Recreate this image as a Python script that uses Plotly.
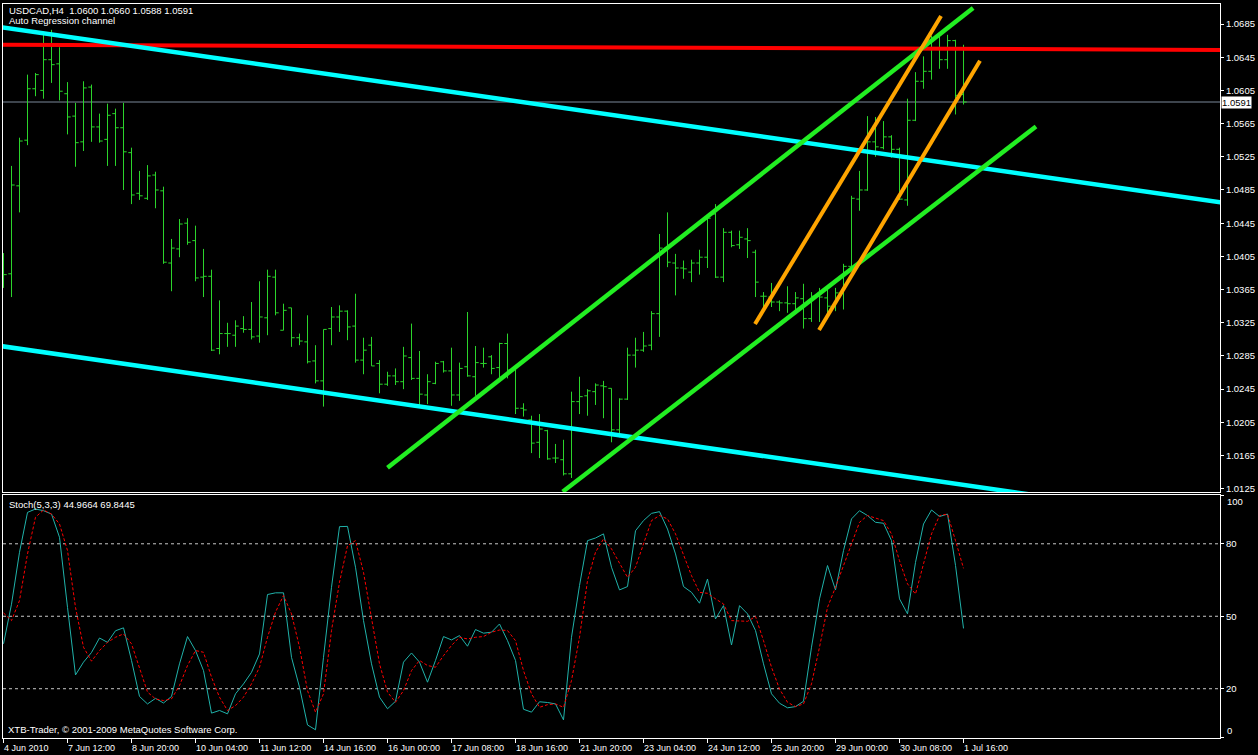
import plotly.graph_objects as go

# ---------------- data ----------------
symbol_header = "USDCAD,H4  1.0600 1.0660 1.0588 1.0591"
indicator_name = "Auto Regression channel"
stoch_header = "Stoch(5,3,3) 44.9664 69.8445"
copyright_text = "XTB-Trader, \u00a9 2001-2009 MetaQuotes Software Corp."

bar_index = list(range(121))

opens = [1.0389,1.0384,1.0490,1.0545,1.0607,1.0605,1.0642,1.0637,1.0601,1.0574,
         1.0543,1.0609,1.0561,1.0546,1.0577,1.0560,1.0530,1.0481,1.0475,1.0503,
         1.0484,1.0397,1.0414,1.0445,1.0424,1.0380,1.0381,1.0294,1.0312,1.0310,
         1.0318,1.0317,1.0309,1.0331,1.0380,1.0316,1.0343,1.0307,1.0302,1.0279,
         1.0255,1.0318,1.0332,1.0339,1.0321,1.0280,1.0298,1.0276,1.0251,1.0261,
         1.0254,1.0283,1.0258,1.0238,1.0252,1.0278,1.0267,1.0238,1.0272,1.0260,
         1.0276,1.0284,1.0271,1.0300,1.0270,1.0222,1.0208,1.0181,1.0195,1.0162,
         1.0160,1.0143,1.0230,1.0237,1.0242,1.0249,1.0246,1.0196,1.0233,1.0286,
         1.0292,1.0298,1.0336,1.0415,1.0397,1.0391,1.0386,1.0397,1.0404,1.0456,
         1.0380,1.0434,1.0419,1.0426,1.0410,1.0357,1.0356,1.0350,1.0349,1.0348,
         1.0354,1.0330,1.0357,1.0355,1.0345,1.0361,1.0393,1.0474,1.0485,1.0543,
         1.0536,1.0549,1.0534,1.0473,1.0569,1.0616,1.0628,1.0656,1.0642,1.0665,
         1.0600]
highs = [1.0409,1.0514,1.0548,1.0624,1.0626,1.0674,1.0678,1.0657,1.0615,1.0590,
         1.0616,1.0612,1.0577,1.0589,1.0583,1.0590,1.0536,1.0508,1.0515,1.0507,
         1.0489,1.0426,1.0450,1.0451,1.0442,1.0414,1.0389,1.0352,1.0325,1.0328,
         1.0333,1.0350,1.0375,1.0389,1.0389,1.0348,1.0343,1.0312,1.0334,1.0298,
         1.0317,1.0344,1.0346,1.0340,1.0360,1.0307,1.0308,1.0280,1.0266,1.0270,
         1.0296,1.0324,1.0291,1.0263,1.0278,1.0279,1.0295,1.0277,1.0338,1.0297,
         1.0295,1.0286,1.0301,1.0312,1.0270,1.0228,1.0213,1.0215,1.0196,1.0179,
         1.0184,1.0242,1.0260,1.0245,1.0252,1.0255,1.0246,1.0234,1.0295,1.0307,
         1.0314,1.0339,1.0432,1.0458,1.0408,1.0400,1.0401,1.0413,1.0452,1.0468,
         1.0439,1.0436,1.0436,1.0439,1.0413,1.0362,1.0373,1.0352,1.0369,1.0362,
         1.0372,1.0362,1.0367,1.0366,1.0367,1.0396,1.0478,1.0508,1.0574,1.0573,
         1.0568,1.0551,1.0536,1.0595,1.0627,1.0646,1.0671,1.0671,1.0672,1.0666,
         1.0660]
lows = [1.0367,1.0356,1.0458,1.0539,1.0598,1.0595,1.0614,1.0593,1.0552,1.0513,
        1.0532,1.0543,1.0542,1.0514,1.0514,1.0485,1.0468,1.0473,1.0473,1.0463,
        1.0396,1.0363,1.0404,1.0419,1.0375,1.0356,1.0291,1.0287,1.0296,1.0296,
        1.0313,1.0305,1.0301,1.0310,1.0334,1.0316,1.0296,1.0298,1.0276,1.0252,
        1.0224,1.0298,1.0314,1.0304,1.0277,1.0263,1.0273,1.0240,1.0249,1.0250,
        1.0245,1.0256,1.0225,1.0227,1.0251,1.0265,1.0225,1.0231,1.0260,1.0237,
        1.0271,1.0263,1.0258,1.0258,1.0215,1.0212,1.0168,1.0162,1.0160,1.0156,
        1.0141,1.0138,1.0215,1.0213,1.0226,1.0210,1.0181,1.0187,1.0232,1.0271,
        1.0290,1.0292,1.0308,1.0392,1.0358,1.0378,1.0374,1.0383,1.0391,1.0379,
        1.0374,1.0416,1.0414,1.0403,1.0356,1.0341,1.0344,1.0339,1.0337,1.0339,
        1.0318,1.0326,1.0326,1.0331,1.0339,1.0341,1.0392,1.0460,1.0484,1.0525,
        1.0534,1.0524,1.0473,1.0466,1.0568,1.0607,1.0618,1.0631,1.0631,1.0576,
        1.0588]
closes = [1.0383,1.0491,1.0544,1.0607,1.0624,1.0642,1.0636,1.0604,1.0573,1.0542,
          1.0608,1.0561,1.0544,1.0575,1.0560,1.0531,1.0479,1.0478,1.0502,1.0485,
          1.0398,1.0415,1.0444,1.0422,1.0379,1.0381,1.0292,1.0312,1.0312,1.0321,
          1.0317,1.0308,1.0332,1.0381,1.0337,1.0340,1.0307,1.0303,1.0278,1.0255,
          1.0317,1.0332,1.0339,1.0320,1.0280,1.0292,1.0273,1.0251,1.0261,1.0254,
          1.0285,1.0258,1.0239,1.0254,1.0276,1.0267,1.0238,1.0270,1.0261,1.0277,
          1.0276,1.0270,1.0300,1.0268,1.0222,1.0220,1.0180,1.0197,1.0161,1.0162,
          1.0143,1.0230,1.0236,1.0243,1.0250,1.0248,1.0196,1.0233,1.0286,1.0292,
          1.0297,1.0336,1.0415,1.0398,1.0391,1.0390,1.0397,1.0404,1.0451,1.0380,
          1.0434,1.0418,1.0428,1.0424,1.0374,1.0357,1.0350,1.0349,1.0348,1.0355,
          1.0330,1.0357,1.0356,1.0345,1.0361,1.0393,1.0475,1.0485,1.0543,1.0537,
          1.0549,1.0534,1.0474,1.0569,1.0616,1.0628,1.0656,1.0642,1.0665,1.0599,
          1.0591]

stoch_k = [38.6,55,76.5,93,94.4,93.7,92.3,82.7,53.7,25.7,
           31,35,41,39.2,44,45.2,31.7,16.8,13.7,16,
           14.1,16.8,30.3,41.6,35.8,27.5,9.9,11,9.6,17.9,
           22,26.8,34.4,59,59.7,59.7,33,20.6,5,3,
           33,62,87.1,87.2,70.3,48.2,30.3,16.5,11.7,14.8,
           31,34.8,31,22.7,31.7,41.6,40.2,42,37.6,44.5,
           43,43.4,46.8,39.9,31.7,11.5,10.3,14.6,14.3,13.7,
           7.1,41.3,62.7,81.3,82.4,84.1,70.3,60.9,62.3,85.4,
           89.6,92.6,93.3,86.1,75.8,62.3,59.9,55.4,65.4,48.9,
           54.4,38.1,54.4,51,44.1,30.3,17.9,14,12.1,12.6,
           14.8,37.2,57.2,71,60.9,77.2,90.3,93.7,91.7,88.9,
           88.5,81.3,57.2,51,72.3,88.2,94,91.3,92.3,71,
           44.97]
stoch_d = [51.4,48.2,56.5,75.8,91,94,92.3,88.2,77.2,53.7,
           37.2,31.4,35.8,39.2,41.3,42.7,38.6,28.9,18.6,15.8,
           15.1,15.8,21.3,29.6,35.8,35.1,24.8,16.5,11,13,
           16.5,22,28.9,41.3,51.7,58.6,51,37.2,19.2,10.3,
           17.9,44.1,64.1,79.2,81.3,68.2,49.6,30.3,18.6,14.4,
           19.2,27.5,31.7,29.6,28.9,33.7,37.9,41.3,40.6,41.3,
           41.6,43.4,44.3,44.1,39.9,27.5,17.9,12.3,13.4,13.7,
           12.3,23.4,41.3,64.8,76.5,82,77.9,71.7,66.1,70.3,
           79.9,89.6,91.7,90.3,84.1,75.8,66.8,59.9,59.5,57.2,
           55.1,48.2,48.2,47.9,49.9,39.9,28.9,19.9,14.4,12.6,
           13.7,22,37.2,53.7,62,71,79.9,88.9,91.7,90.7,
           89.6,84.1,73,63.4,59.2,71.7,84.1,91.7,92.3,81.3,
           69.84]

# time-axis labels (every 8th 4-hour bar)
time_tick_index = [0, 8, 16, 24, 32, 40, 48, 56, 64, 72, 80, 88, 96, 104, 112, 120]
time_tick_labels = ["4 Jun 2010", "7 Jun 12:00", "8 Jun 20:00", "10 Jun 04:00",
                    "11 Jun 12:00", "14 Jun 16:00", "16 Jun 00:00", "17 Jun 08:00",
                    "18 Jun 16:00", "21 Jun 20:00", "23 Jun 04:00", "24 Jun 12:00",
                    "25 Jun 20:00", "29 Jun 00:00", "30 Jun 08:00", "1 Jul 16:00"]

price_ticks = [1.0125, 1.0165, 1.0205, 1.0245, 1.0285, 1.0325, 1.0365, 1.0405,
               1.0445, 1.0485, 1.0525, 1.0565, 1.0605, 1.0645, 1.0685]
stoch_ticks = [0, 20, 50, 80, 100]
stoch_tick_text = ["", "20", "50", "80", ""]
stoch_levels = [20, 50, 80]
last_price = 1.0591

# drawn objects: (bar index, price) anchor pairs
red_line_x = [-0.5, 152.5]
red_line_y = [1.06600, 1.06537]
cyan_upper_x = [-0.5, 152.5]
cyan_upper_y = [1.06815, 1.04695]
cyan_lower_x = [-0.5, 152.5]
cyan_lower_y = [1.02972, 1.00845]
green_upper_x = [48.0, 121.2]
green_upper_y = [1.01504, 1.07043]
green_lower_x = [69.9, 129.06]
green_lower_y = [1.01215, 1.05615]
orange_a_x = [93.94, 117.19]
orange_a_y = [1.03236, 1.06946]
orange_b_x = [101.94, 122.06]
orange_b_y = [1.03163, 1.06408]

# ---------------- figure ----------------
FONT = "Liberation Sans, Arial, sans-serif"
W, H = 1258, 755
ML, MR, MT, MB = 3, 38, 4, 17
plot_h = H - MT - MB
price_dom = [(H - MB - 492) / plot_h, 1.0]
stoch_dom = [0.0, (H - MB - 495) / plot_h]

fig = go.Figure()

fig.add_trace(go.Ohlc(
    x=bar_index, open=opens, high=highs, low=lows, close=closes,
    increasing=dict(line=dict(color="#2bd42b", width=1)),
    decreasing=dict(line=dict(color="#2bd42b", width=1)),
    tickwidth=0.4, xaxis="x2", yaxis="y2", hoverinfo="skip", showlegend=False))

def seg(xs, ys, color, width):
    fig.add_trace(go.Scatter(x=xs, y=ys, mode="lines", line=dict(color=color, width=width),
                             xaxis="x2", yaxis="y2", hoverinfo="skip", showlegend=False))

seg(red_line_x, red_line_y, "#ff0000", 4)
seg(cyan_upper_x, cyan_upper_y, "#00ffff", 4.5)
seg(cyan_lower_x, cyan_lower_y, "#00ffff", 4.5)
seg(green_upper_x, green_upper_y, "#22ee22", 4.5)
seg(green_lower_x, green_lower_y, "#22ee22", 4.5)
seg(orange_a_x, orange_a_y, "#ffa500", 4)
seg(orange_b_x, orange_b_y, "#ffa500", 4)

# stochastic
fig.add_trace(go.Scatter(x=bar_index, y=stoch_k, mode="lines",
                         line=dict(color="#20b2aa", width=1),
                         xaxis="x", yaxis="y", hoverinfo="skip", showlegend=False))
fig.add_trace(go.Scatter(x=bar_index, y=stoch_d, mode="lines",
                         line=dict(color="#ff0000", width=1, dash="3px,2px"),
                         xaxis="x", yaxis="y", hoverinfo="skip", showlegend=False))

shapes = []
for lv in stoch_levels:
    shapes.append(dict(type="line", xref="x domain", yref="y", x0=0, x1=1, y0=lv, y1=lv,
                       line=dict(color="#c8c8c8", width=1, dash="3px,3px"), layer="below"))
shapes.append(dict(type="line", xref="x2 domain", yref="y2", x0=0, x1=1,
                   y0=last_price, y1=last_price,
                   line=dict(color="#7a8899", width=1), layer="below"))

x_range = [-0.0625, 152.06]
axis_common = dict(showgrid=False, zeroline=False, showline=True, mirror=True,
                   linecolor="white", linewidth=1)

annotations = []
for xi, lab in zip(time_tick_index, time_tick_labels):
    annotations.append(dict(x=xi, xref="x", y=0, yref="paper", yanchor="top", xanchor="left",
                            yshift=-3, xshift=-2, text=lab, showarrow=False,
                            font=dict(family=FONT, size=9, color="white")))

def pix_y(py):
    return (H - MB - py) / plot_h

txt_font = dict(family=FONT, size=9.5, color="white")
annotations += [
    dict(x=0, xref="paper", y=pix_y(10), yref="paper", xanchor="left", yanchor="middle",
         xshift=4, text=symbol_header, showarrow=False, font=txt_font),
    dict(x=0, xref="paper", y=pix_y(20.5), yref="paper", xanchor="left", yanchor="middle",
         xshift=4, text=indicator_name, showarrow=False, font=txt_font),
    dict(x=0, xref="paper", y=pix_y(504), yref="paper", xanchor="left", yanchor="middle",
         xshift=4, text=stoch_header, showarrow=False, font=txt_font),
    dict(x=0, xref="paper", y=pix_y(729), yref="paper", xanchor="left", yanchor="middle",
         xshift=3, text=copyright_text, showarrow=False, font=txt_font),
    dict(x=1, xref="paper", y=last_price, yref="y2", xanchor="left", yanchor="middle",
         xshift=1, text=f"{last_price:.4f}", showarrow=False, bgcolor="white",
         borderpad=0, font=dict(family=FONT, size=9.5, color="black")),
    # end labels of the stochastic scale, kept inside the panel as in the terminal
    dict(x=1, xref="paper", y=stoch_ticks[-1], yref="y", xanchor="left", yanchor="middle",
         xshift=5, yshift=-6, text=str(stoch_ticks[-1]), showarrow=False, font=txt_font),
    dict(x=1, xref="paper", y=stoch_ticks[0], yref="y", xanchor="left", yanchor="middle",
         xshift=5, yshift=7, text=str(stoch_ticks[0]), showarrow=False, font=txt_font),
]

fig.update_layout(
    width=W, height=H,
    margin=dict(l=ML, r=MR, t=MT, b=MB, pad=0),
    paper_bgcolor="black", plot_bgcolor="black",
    font=dict(family=FONT, size=9, color="white"),
    showlegend=False,
    xaxis=dict(domain=[0, 1], anchor="y", range=x_range, tickvals=time_tick_index,
               ticktext=[""] * len(time_tick_index), ticks="outside", ticklen=4,
               tickcolor="white", **axis_common),
    xaxis2=dict(domain=[0, 1], anchor="y2", matches="x", range=x_range,
                showticklabels=False, ticks="", rangeslider=dict(visible=False),
                **axis_common),
    yaxis=dict(domain=stoch_dom, anchor="x", side="right", range=[-0.4, 100.2],
               tickvals=stoch_ticks, ticktext=stoch_tick_text, ticks="outside", ticklen=3,
               tickcolor="white", tickfont=txt_font, **axis_common),
    yaxis2=dict(domain=price_dom, anchor="x2", side="right", range=[1.01211, 1.07091],
                tickvals=price_ticks, tickformat=".4f", ticks="outside", ticklen=3,
                tickcolor="white", tickfont=txt_font, **axis_common),
    shapes=shapes,
    annotations=annotations,
)

fig.write_html(
    "out.html",
    config={"displayModeBar": False},
    post_script="document.body.style.margin='0';document.body.style.padding='0';"
                "document.body.style.background='black';document.body.style.overflow='hidden';",
)
